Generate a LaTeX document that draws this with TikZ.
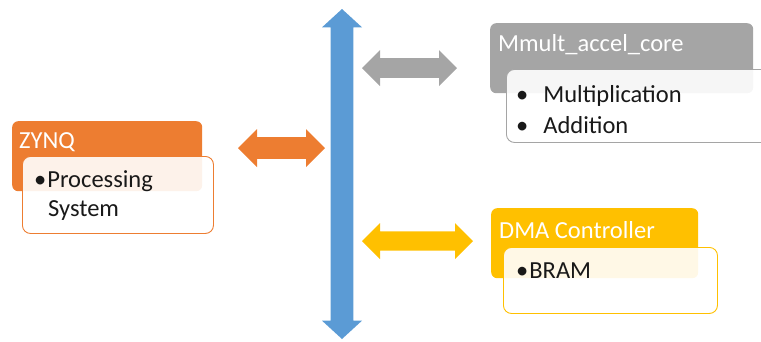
\documentclass[tikz,border=0pt]{standalone}
\usepackage{fontspec}
\setmainfont{Carlito}
\usepackage{tikz}
\usetikzlibrary{shapes.arrows,positioning}

\definecolor{zorange}{HTML}{ED7D31}
\definecolor{zgray}{HTML}{A5A5A5}
\definecolor{zgold}{HTML}{FFC000}
\definecolor{zblue}{HTML}{5B9BD5}

\begin{document}
\begin{tikzpicture}[
  x=1pt, y=-1pt,
  font=\fontsize{24.5}{28}\selectfont,
  hdr/.style={fill=#1, rounded corners=6pt, anchor=north west, inner sep=0pt},
  sub/.style={draw=#1, line width=0.9pt, fill=white, fill opacity=0.9, text opacity=1,
    rounded corners=8pt, anchor=north west, inner sep=0pt},
  ttl/.style={text=white, anchor=base west, inner sep=0pt},
  itm/.style={text=black!90, anchor=base west, inner sep=0pt},
  dbl/.style={double arrow, fill=#1, draw=none, inner xsep=0pt, inner ysep=8.5pt}
]
\useasboundingbox (0,0) rectangle (761,341);

% Bus
\node[dbl=zblue, minimum height=330pt, minimum width=40pt, inner ysep=9pt,
  double arrow tip angle=95, rotate=90] (bus) at (342,174) {};

% ZYNQ
\node[hdr=zorange, minimum width=190pt, minimum height=70pt] (zynq) at (12,121) {};
\node[sub=zorange, minimum width=191pt, minimum height=77pt] (ps) at (22,156) {};
\node[ttl] (zynqttl) at (19,148) {ZYNQ};
\node[itm] (psa) at (34,187) {•\hspace{1pt}Processing};
\node[itm] (psb) at (48,216) {System};

% Mmult_accel_core
\node[hdr=zgray, minimum width=263pt, minimum height=70pt] (mm) at (490,23) {};
\node[sub=zgray, minimum width=270pt, minimum height=73pt] (ops) at (506,69) {};
\node[ttl] (mmttl) at (498,51) {Mmult\_accel\_core};
\node[itm] (opa) at (516,102) {•\hspace{15pt}Multiplication};
\node[itm] (opb) at (516,133) {•\hspace{15pt}Addition};

% DMA Controller
\node[hdr=zgold, minimum width=207pt, minimum height=70pt] (dma) at (491,208) {};
\node[sub=zgold, minimum width=214pt, minimum height=66pt] (mem) at (503,247) {};
\node[ttl] (dmattl) at (499,238) {DMA Controller};
\node[itm] (mema) at (516,278) {•\hspace{1pt}BRAM};

% Links to the bus
\node[dbl=zorange, minimum height=87pt, minimum width=38pt, inner ysep=9.5pt] (l1) at (281.5,148) {};
\node[dbl=zgray, minimum height=95pt, minimum width=36pt] (l2) at (409.5,68) {};
\node[dbl=zgold, minimum height=111pt, minimum width=36pt, inner ysep=8pt] (l3) at (417.5,241) {};

\end{tikzpicture}
\end{document}
